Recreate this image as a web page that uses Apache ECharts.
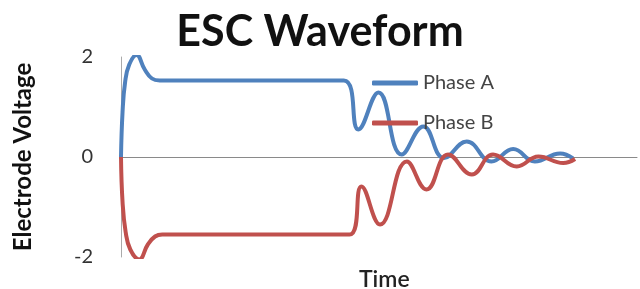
<!DOCTYPE html>
<html>
<head>
<meta charset="utf-8">
<script src="https://cdn.jsdelivr.net/npm/echarts@6/dist/echarts.min.js"></script>
<style>
  html, body { margin: 0; padding: 0; background: #fff; }
  #main { width: 640px; height: 289px; }
</style>
</head>
<body>
<div id="main"></div>
<script>
// time (arbitrary units) and voltage
var timeA = [0, 0.3, 0.8, 1.6, 3.0, 4.6, 6.0, 7.5, 20, 35, 43.2, 46.0, 49.9, 54.4, 58.6, 62.6, 67.0, 71.8, 76.0, 80.2, 85.1, 87.6];
var phaseA = [0, 0.9, 1.5, 1.85, 2.04, 1.75, 1.57, 1.53, 1.53, 1.53, 1.53, 0.55, 1.29, 0.05, 0.61, -0.02, 0.31, -0.09, 0.16, -0.09, 0.07, -0.03];
var timeB = [0, 0.3, 0.9, 1.8, 3.5, 5.2, 6.6, 8.0, 20, 35, 44.3, 46.6, 50.2, 55.4, 59.2, 63.4, 68.0, 72.1, 76.7, 80.9, 85.7, 88.0];
var phaseB = [0, -0.9, -1.5, -1.85, -2.05, -1.75, -1.59, -1.55, -1.55, -1.55, -1.55, -0.59, -1.35, -0.09, -0.65, 0.05, -0.35, 0.05, -0.19, 0.01, -0.12, -0.04];
var yTicks = [-2, 0, 2];

function pairs(xs, ys) {
  return xs.map(function (x, i) { return [x, ys[i]]; });
}

var chart = echarts.init(document.getElementById('main'));
var font = 'Lato, "Open Sans", sans-serif';
chart.setOption({
  backgroundColor: '#fff',
  animation: false,
  title: [{
    text: 'ESC Waveform',
    left: 'center',
    top: 6,
    textStyle: { fontFamily: font, fontSize: 43, fontWeight: 'bold', color: '#111' }
  }, {
    text: 'Time',
    left: 354,
    top: 263,
    textStyle: { fontFamily: font, fontSize: 23, fontWeight: 600, color: '#222' }
  }],
  legend: {
    orient: 'vertical',
    left: 367,
    top: 68,
    itemWidth: 46,
    itemHeight: 5,
    itemGap: 20,
    icon: 'roundRect',
    textStyle: { fontFamily: font, fontSize: 20, color: '#444' },
    data: ['Phase A', 'Phase B']
  },
  grid: { left: 121, right: 3, top: 57, bottom: 32 },
  xAxis: {
    type: 'value',
    min: 0,
    max: 100,
    axisLine: { show: true, onZero: true, lineStyle: { color: '#8a8a8a', width: 1 } },
    axisTick: { show: false },
    axisLabel: { show: false },
    splitLine: { show: false }
  },
  yAxis: {
    type: 'value',
    min: yTicks[0],
    max: yTicks[yTicks.length - 1],
    interval: 2,
    name: 'Electrode Voltage',
    nameLocation: 'middle',
    nameGap: 86,
    nameTextStyle: { fontFamily: font, fontSize: 24, fontWeight: 'bold', color: '#111' },
    axisLine: { show: true, lineStyle: { color: '#aaa', width: 1 } },
    axisTick: { show: false },
    axisLabel: { margin: 28, fontFamily: font, fontSize: 20, color: '#333' },
    splitLine: { show: false }
  },
  series: [{
    name: 'Phase A',
    type: 'line',
    smooth: 0.45,
    showSymbol: false,
    color: '#4f81bd',
    lineStyle: { width: 4, color: '#4f81bd' },
    data: pairs(timeA, phaseA)
  }, {
    name: 'Phase B',
    type: 'line',
    smooth: 0.45,
    showSymbol: false,
    color: '#c0504d',
    lineStyle: { width: 4, color: '#c0504d' },
    data: pairs(timeB, phaseB)
  }]
});
</script>
</body>
</html>
